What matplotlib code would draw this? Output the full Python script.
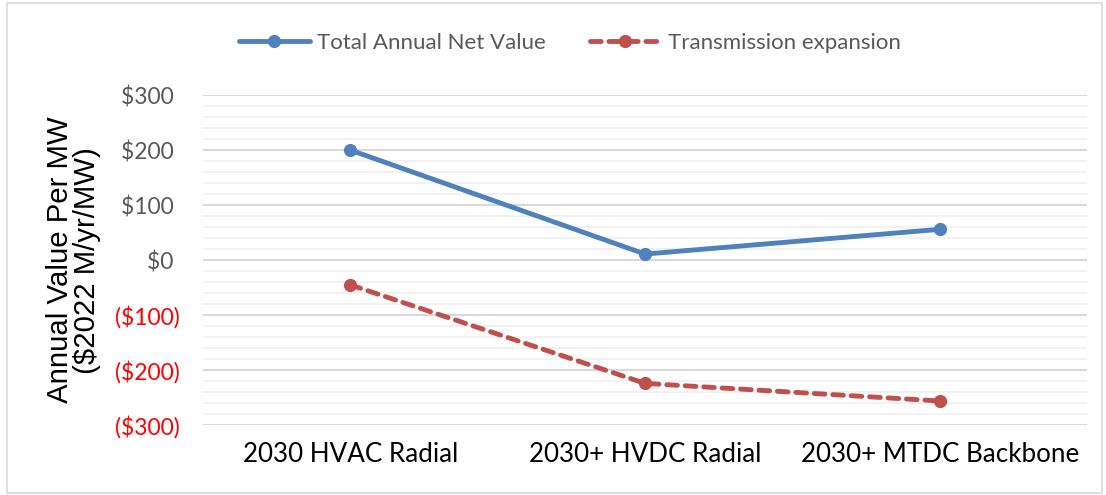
import numpy as np
import matplotlib.pyplot as plt
from matplotlib.patches import Rectangle

# ---------------- data ----------------
categories = ['2030 HVAC Radial', '2030+ HVDC Radial', '2030+ MTDC Backbone']
net_value = [200, 11, 56]          # Total Annual Net Value
trans_exp = [-45, -224, -256]      # Transmission expansion
yticks = [-300, -200, -100, 0, 100, 200, 300]

blue = '#4F81BD'
red = '#C0504D'
body_font = ['Lato', 'DejaVu Sans']

fig = plt.figure(figsize=(11.06, 4.95), dpi=100)
ax = fig.add_axes([0.1835, 0.141, 0.7995, 0.667])

x = np.arange(len(categories))
ax.plot(x, net_value, color=blue, lw=3.5, marker='o', ms=8.5,
        solid_capstyle='round', label='Total Annual Net Value', zorder=3)
ax.plot(x, trans_exp, color=red, lw=3.5, marker='o', ms=8.5,
        linestyle=(0, (2.2, 1.6)), dash_capstyle='round',
        label='Transmission expansion', zorder=3)

ax.set_xlim(-0.5, len(categories) - 0.5)
ax.set_ylim(-300, 300)
ax.set_xticks(x)
ax.set_xticklabels(categories, fontsize=18.7, family=body_font, color='black')

ax.set_yticks(yticks)
ax.set_yticks(np.arange(-300, 301, 20), minor=True)
labels = ['$%d ' % v if v >= 0 else '($%d)' % -v for v in yticks]
ax.set_yticklabels(labels, fontsize=16.5, family=body_font)
for lab, v in zip(ax.get_yticklabels(), yticks):
    lab.set_color('#FF0000' if v < 0 else '#595959')

ax.grid(axis='y', which='major', color='#D9D9D9', lw=1.5)
ax.grid(axis='y', which='minor', color='#F2F2F2', lw=1.5)
ax.set_axisbelow(True)
ax.tick_params(axis='both', which='both', length=0)
ax.tick_params(axis='y', pad=17)
ax.tick_params(axis='x', pad=12)
for s in ax.spines.values():
    s.set_visible(False)

ax.set_ylabel('Annual Value Per MW\n($2022 M/yr/MW)', fontsize=21.2,
              family=['Liberation Sans', 'DejaVu Sans'], linespacing=0.95,
              labelpad=10)

fig.legend(loc='center', bbox_to_anchor=(0.515, 0.913), ncol=2, frameon=False,
           prop={'family': body_font, 'size': 16}, labelcolor='#595959',
           handlelength=3.2, columnspacing=2.0, handletextpad=0.3)

fig.patches.append(Rectangle((0.006, 0.004), 0.99, 0.99, transform=fig.transFigure,
                             fill=False, edgecolor='#D9D9D9', lw=1.2))

fig.savefig('out.png', dpi=100)
